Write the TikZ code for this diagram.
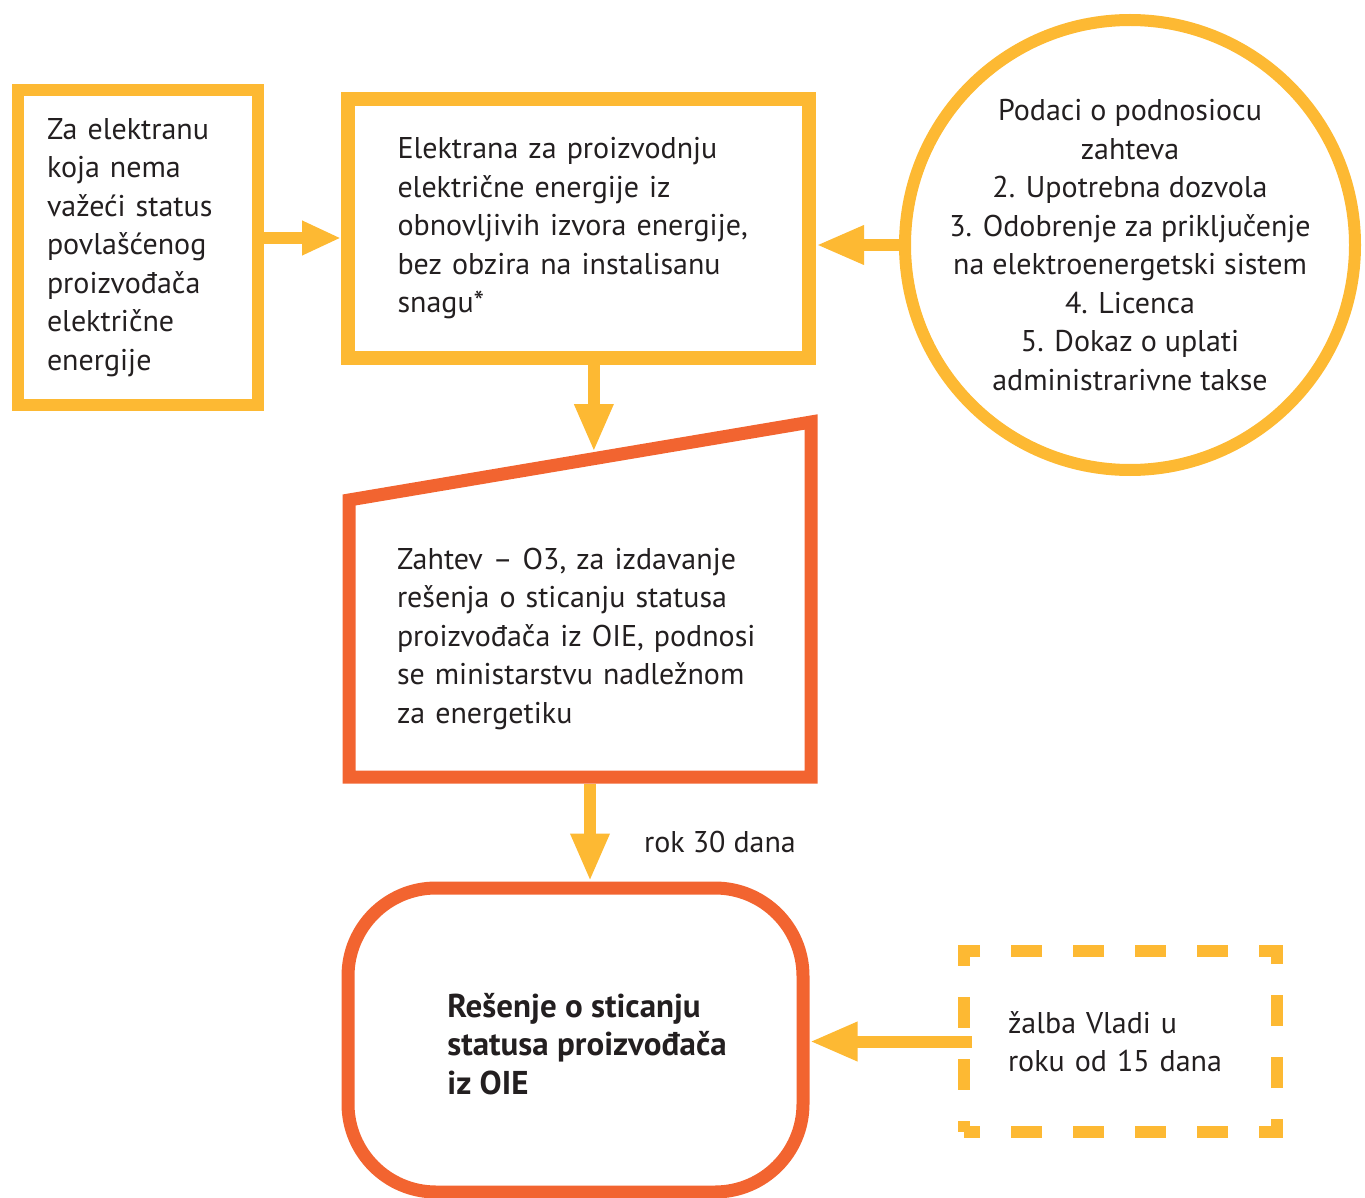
\documentclass[tikz,border=0pt]{standalone}
\usepackage{fontspec}
\setmainfont{PT Sans}
\usetikzlibrary{arrows.meta, calc}

\begin{document}
\begin{tikzpicture}[x=0.5pt, y=-0.5pt, line join=miter,
		% Styles
		body text/.style={text=ink, font=\fontsize{15pt}{19.25pt}\selectfont, align=left, inner sep=0pt},
		yellow frame/.style={draw=gold, line width=6pt, inner sep=0pt},
		orange frame/.style={draw=flame, line width=6.5pt, inner sep=0pt},
		flow arrow/.style={draw=gold, line width=6pt, -{Triangle[length=24pt, width=18pt]}}
		]
		
		% Colors
		\definecolor{gold}{HTML}{FDB933}
		\definecolor{flame}{HTML}{F26430}
		\definecolor{ink}{HTML}{231F20}
		
		\useasboundingbox (0,0) rectangle (1365,1198);
		
		% Top row
		\node[yellow frame, body text, text width=91pt, minimum width=120pt, minimum height=157.5pt] (lijevo) at (138,247.5)
			{Za elektranu\\koja nema\\važeći status\\povlašćenog\\proizvođača\\električne\\energije};
		\node[yellow frame, line width=7pt, body text, text width=181pt, minimum width=230.5pt, minimum height=129.5pt] (elektrana) at (578.5,228.5)
			{Elektrana za proizvodnju\\električne energije iz\\obnovljivih izvora energije,\\bez obzira na instalisanu\\snagu*};
		\node[yellow frame, circle, minimum size=225pt] (podaci) at (1130,245) {};
		\node[body text, align=center] (podaci text) at (podaci.center)
			{Podaci o podnosiocu\\zahteva\\2. Upotrebna dozvola\\3. Odobrenje za priključenje\\na elektroenergetski sistem\\4. Licenca\\5. Dokaz o uplati\\administrarivne takse};
		
		% Request: slanted top edge
		\node[body text, text width=183pt, minimum width=231pt, minimum height=138.5pt, outer sep=0pt] (zahtev) at (580,638.5)
			{Zahtev – O3, za izdavanje\\rešenja o sticanju statusa\\proizvođača iz OIE, podnosi\\se ministarstvu nadležnom\\za energetiku};
		\coordinate (zahtev ne) at ([yshift=39pt]zahtev.north east);
		\draw[orange frame] (zahtev.south west) -- (zahtev.north west) -- (zahtev ne) -- (zahtev.south east) -- cycle;
		
		% Decision
		\node[orange frame, rounded corners=44pt, minimum width=227.5pt, minimum height=152pt] (resenje) at (575.5,1040) {};
		\node[body text, font=\fontsize{16.5pt}{19.25pt}\selectfont\bfseries, anchor=west] (resenje text) at (447,1044)
			{Rešenje o sticanju\\statusa proizvođača\\iz OIE};
		
		% Appeal
		\node[yellow frame, dash pattern=on 15.5pt off 15.5pt, dash phase=7.5pt, body text, text width=112.5pt, minimum width=156.5pt, minimum height=90.5pt] (zalba) at (1120.5,1041.5)
			{žalba Vladi u\\roku od 15 dana};
		
		\node[body text] (rok) at (720,842) {rok 30 dana};
		
		% Arrows
		\coordinate (a1) at ([yshift=4.75pt]lijevo.east);
		\draw[flow arrow, -{Triangle[length=19.5pt, width=16pt]}] (a1) -- (a1 -| elektrana.west);
		\draw[flow arrow] (podaci.west) -- (podaci.west -| elektrana.east);
		
		\coordinate (zahtev top) at ($(zahtev.north west)!0.53!(zahtev ne)$);
		\draw[flow arrow, shorten >=3.3pt] (elektrana.south -| zahtev top) -- (zahtev top);
		
		\coordinate (zahtev bottom) at ([xshift=5pt]zahtev.south);
		\draw[flow arrow, shorten <=3.25pt] (zahtev bottom) -- (zahtev bottom |- resenje.north);
		
		\draw[flow arrow, shorten <=-7pt] (zalba.west) -- (zalba.west -| resenje.east);
		
	\end{tikzpicture}
\end{document}
